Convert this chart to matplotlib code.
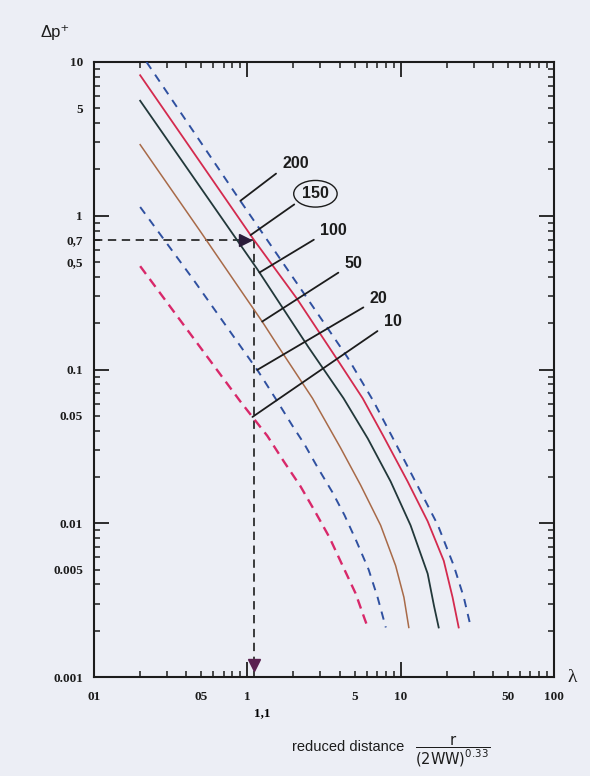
"""
Overpressure Δp+ against reduced distance λ for several charge weights,
log-log chart with the reading example at λ = 1,1.
"""

import numpy as np
import matplotlib
matplotlib.use("Agg")
import matplotlib.pyplot as plt
from matplotlib.ticker import LogLocator, FuncFormatter

# curve data (lambda, delta p+)
lam_10 = [0.2, 0.9, 1.1, 1.35, 1.74, 2.22, 2.78, 3.43, 4.18, 5.08, 5.81, 6.1]
dp_10 = [0.47, 0.062, 0.048, 0.037, 0.025, 0.0174, 0.0118, 0.0081, 0.0053, 0.0035, 0.0024, 0.0021]

lam_20 = [0.2, 0.44, 1.18, 1.57, 1.97, 2.36, 2.87, 3.59, 4.3, 5.16, 6.18, 7.07, 8.0]
dp_20 = [1.14, 0.39, 0.097, 0.062, 0.043, 0.0326, 0.0231, 0.0159, 0.0113, 0.0076, 0.005, 0.0033, 0.0021]

lam_50 = [0.2, 0.49, 0.94, 1.25, 1.6, 2.66, 4.05, 5.48, 7.4, 9.27, 10.5, 11.3]
dp_50 = [2.9, 0.8, 0.31, 0.205, 0.14, 0.065, 0.031, 0.0177, 0.0097, 0.0053, 0.0033, 0.0021]

lam_100 = [0.2, 1.16, 2.5, 4.24, 6.1, 8.6, 11.6, 15.0, 16.5, 17.7]
dp_100 = [5.6, 0.45, 0.14, 0.065, 0.0356, 0.0187, 0.0097, 0.0047, 0.0029, 0.0021]

lam_150 = [0.2, 1.1, 2.1, 4.0, 5.65, 7.7, 11.1, 15.0, 19.1, 21.8, 23.9]
dp_150 = [8.2, 0.7, 0.29, 0.11, 0.065, 0.037, 0.0187, 0.0103, 0.0057, 0.0033, 0.0021]

lam_200 = [0.22, 0.9, 2.3, 4.5, 6.66, 9.0, 12.9, 17.5, 22.2, 25.8, 28.7]
dp_200 = [10.0, 1.25, 0.32, 0.12, 0.062, 0.035, 0.0175, 0.0097, 0.0053, 0.0033, 0.0021]

curve_labels = ["10", "20", "50", "100", "150", "200"]
leader_lam = [1.08, 1.16, 1.25, 1.2, 1.05, 0.9]   # where each leader touches its curve

# reading example
ref_lam = 1.1
ref_dp = 0.7

# axis ranges and tick texts
lam_range = (0.1, 100)
dp_range = (0.001, 10)
x_major_text = {0.1: "01", 1: "1", 10: "10", 100: "100"}
x_minor_text = {0.5: "05", 5: "5", 50: "50"}
y_major_text = {0.001: "0.001", 0.01: "0.01", 0.1: "0.1", 1: "1", 10: "10"}
y_minor_text = {0.005: "0.005", 0.05: "0.05", 0.5: "0,5", 0.7: "0,7", 5: "5"}

BG = "#eceef5"
INK = "#1c1c1c"


def tick_text(table):
    """Formatter that only writes the values listed in table."""
    def fmt(value, pos):
        for key, text in table.items():
            if np.isclose(value, key, rtol=1e-6):
                return text
        return ""
    return FuncFormatter(fmt)


def setup_axes(fig):
    ax = fig.add_axes([94 / 590, 1 - 677 / 776, 460 / 590, 615 / 776])
    ax.set_facecolor(BG)
    ax.set_xscale("log")
    ax.set_yscale("log")
    ax.set_xlim(*lam_range)
    ax.set_ylim(*dp_range)

    for axis in (ax.xaxis, ax.yaxis):
        axis.set_major_locator(LogLocator(base=10, numticks=12))
        axis.set_minor_locator(LogLocator(base=10, subs=np.arange(2, 10), numticks=12))
    ax.xaxis.set_major_formatter(tick_text(x_major_text))
    ax.xaxis.set_minor_formatter(tick_text(x_minor_text))
    ax.yaxis.set_major_formatter(tick_text(y_major_text))
    ax.yaxis.set_minor_formatter(tick_text(y_minor_text))

    ax.tick_params(which="both", direction="in", top=True, right=True,
                   colors=INK, labelsize=9.5)
    ax.tick_params(which="major", length=11, width=1.3)
    ax.tick_params(which="minor", length=4.5, width=1.1)
    ax.tick_params(axis="x", which="both", pad=10)
    ax.tick_params(axis="y", which="both", pad=8)

    for lbl in ax.get_xticklabels(which="both") + ax.get_yticklabels(which="both"):
        lbl.set_fontfamily(["Liberation Serif", "DejaVu Serif"])
        lbl.set_fontweight("bold")

    for spine in ax.spines.values():
        spine.set_linewidth(1.5)
        spine.set_color(INK)
    return ax


def plot_curves(ax):
    curves = [
        (lam_10, dp_10, "#d8286a", 1.7, (7, 4.5)),
        (lam_20, dp_20, "#2f50a0", 1.4, (6, 5)),
        (lam_50, dp_50, "#a86a48", 1.1, None),
        (lam_100, dp_100, "#22383a", 1.3, None),
        (lam_150, dp_150, "#d42a4e", 1.3, None),
        (lam_200, dp_200, "#2f50a0", 1.4, (6, 5)),
    ]
    for lam, dp, color, lw, dashes in curves:
        line, = ax.plot(lam, dp, color=color, lw=lw, zorder=3)
        if dashes:
            line.set_dashes(dashes)
    return curves


def plot_reading_example(ax):
    ax.plot([lam_range[0], ref_lam], [ref_dp, ref_dp], color=INK, lw=1.2,
            dashes=(6, 4), zorder=2)
    ax.plot([ref_lam, ref_lam], [ref_dp, dp_range[0]], color=INK, lw=1.2,
            dashes=(6, 4), zorder=2)
    ax.plot(0.97, ref_dp, marker=">", ms=8, color="#2a1c3a", zorder=4)
    ax.plot(ref_lam, 0.0012, marker="v", ms=9, color="#5a2050", zorder=4,
            clip_on=False)
    ax.text(ref_lam, -0.058, "1,1", transform=ax.get_xaxis_transform(),
            ha="left", va="center", fontsize=9.5, fontweight="bold",
            family=["Liberation Serif", "DejaVu Serif"])


def label_curves(ax, curves):
    # text centre of each curve number, in data units
    text_pos = [(8.86, 0.205), (7.18, 0.29), (4.93, 0.49),
                (3.65, 0.8), (2.78, 1.39), (2.06, 2.18)]
    for (lam, dp, *_), text, at, pos in zip(curves, curve_labels, leader_lam, text_pos):
        # point on the curve where the leader ends
        y = 10 ** np.interp(np.log10(at), np.log10(lam), np.log10(dp))
        bbox = None
        if text == "150":
            bbox = dict(boxstyle="ellipse,pad=0.12", fc="none", ec=INK, lw=1.0)
        ax.annotate(text, xy=(at, y), xytext=pos, ha="center", va="center",
                    fontsize=11.5, fontweight="bold", color=INK,
                    family=["Liberation Sans", "DejaVu Sans"], bbox=bbox,
                    arrowprops=dict(arrowstyle="-", color=INK, lw=1.3,
                                    relpos=(0.0, 0.15), shrinkA=3, shrinkB=0),
                    zorder=5)


def main():
    plt.rcParams["lines.scale_dashes"] = False
    fig = plt.figure(figsize=(5.9, 7.76), dpi=100)
    fig.patch.set_facecolor(BG)

    ax = setup_axes(fig)
    curves = plot_curves(ax)
    plot_reading_example(ax)
    label_curves(ax, curves)

    fig.text(55 / 590, 1 - 33 / 776, "Δp⁺", fontsize=12, ha="center", va="center",
             family=["Liberation Sans", "DejaVu Sans"], color=INK)
    fig.text(572 / 590, 1 - 677 / 776, "λ", fontsize=14, ha="center", va="center",
             family=["Liberation Serif", "DejaVu Serif"], color=INK)
    fig.text(292 / 590, 1 - 747 / 776, "reduced distance", fontsize=10.5,
             ha="left", va="center", family=["Liberation Sans", "DejaVu Sans"], color=INK)
    fig.text(453 / 590, 1 - 751 / 776, r"$\dfrac{\mathrm{r}}{(2\mathrm{WW})^{0.33}}$",
             fontsize=10.5, ha="center", va="center", color=INK)

    fig.savefig("out.png", dpi=100, facecolor=BG)


if __name__ == "__main__":
    main()
